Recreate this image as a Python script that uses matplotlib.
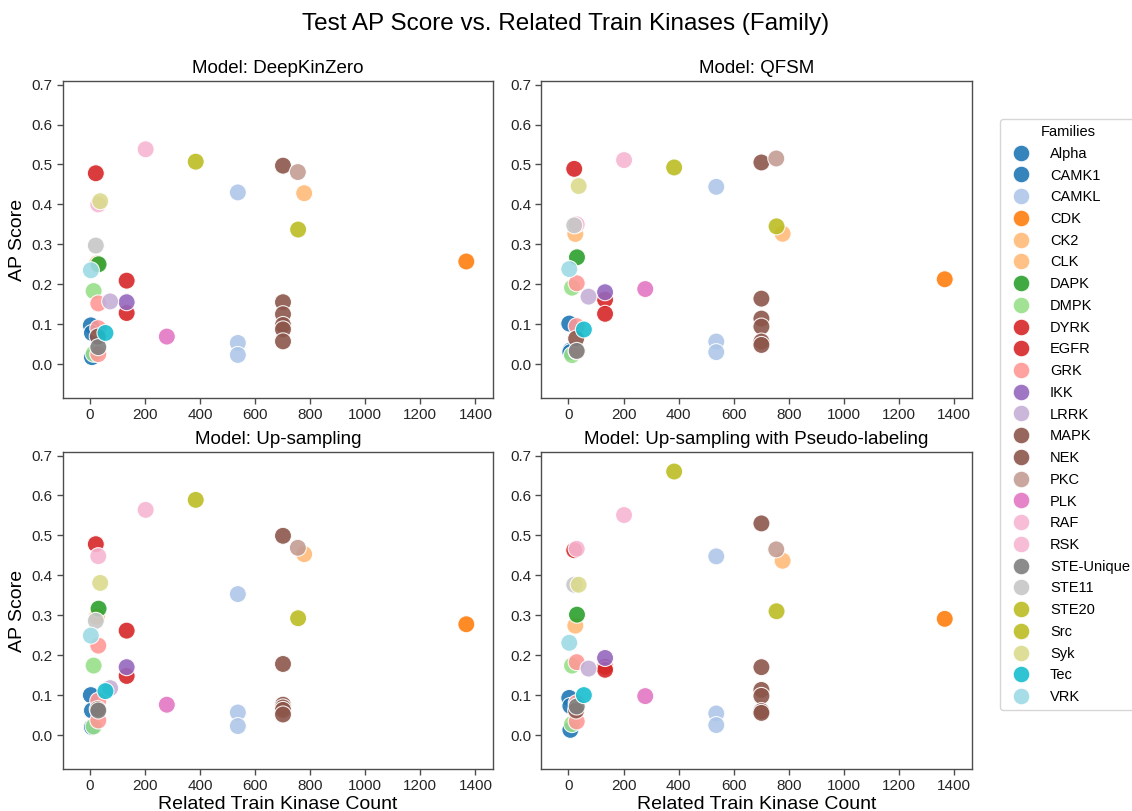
import numpy as np
import matplotlib
matplotlib.use('Agg')
import matplotlib.pyplot as plt
from matplotlib.lines import Line2D

plt.rcParams.update({
    'font.family': ['Liberation Sans', 'DejaVu Sans'],
    'font.size': 11,
    'axes.edgecolor': '#4d4d4d',
    'axes.linewidth': 1.0,
    'xtick.color': '#4d4d4d',
    'ytick.color': '#4d4d4d',
    'xtick.labelcolor': '#262626',
    'ytick.labelcolor': '#262626',
    'xtick.labelsize': 11,
    'ytick.labelsize': 11,
    'figure.facecolor': 'white',
    'axes.facecolor': 'white',
})

# ============================================================
# Data
# ============================================================
families = ['Alpha', 'CAMK1', 'CAMKL', 'CDK', 'CK2', 'CLK', 'DAPK', 'DMPK',
            'DYRK', 'EGFR', 'GRK', 'IKK', 'LRRK', 'MAPK', 'NEK', 'PKC', 'PLK',
            'RAF', 'RSK', 'STE-Unique', 'STE11', 'STE20', 'Src', 'Syk', 'Tec',
            'VRK']
# index into tab20 for every family (as in the reference legend)
family_tab20_idx = [0, 0, 1, 2, 3, 3, 4, 5, 6, 6, 7, 8, 9, 10, 10, 11, 12,
                    13, 13, 14, 15, 16, 16, 17, 18, 19]

kinase_family = ['Alpha', 'CAMK1', 'CAMK1', 'CAMKL', 'CAMKL', 'CAMKL', 'CDK',
                 'CK2', 'CLK', 'DAPK', 'DMPK', 'DMPK', 'DYRK', 'EGFR', 'EGFR',
                 'GRK', 'GRK', 'GRK', 'IKK', 'LRRK',
                 'MAPK', 'MAPK', 'MAPK', 'MAPK', 'MAPK', 'MAPK',
                 'NEK', 'PKC', 'PLK', 'RAF', 'RSK', 'STE-Unique', 'STE11',
                 'STE20', 'Src', 'Syk', 'Tec', 'VRK']
related_count = [3, 7, 7, 537, 537, 537, 1367,
                 25, 778, 31, 13, 13, 21, 133, 133,
                 30, 30, 30, 133, 73,
                 701, 701, 701, 701, 701, 701,
                 28, 755, 279, 30, 202, 30, 21,
                 756, 384, 37, 56, 3]

ap_deepkinzero = [0.097, 0.078, 0.0175, 0.430, 0.053, 0.023, 0.257,
                  0.252, 0.428, 0.250, 0.183, 0.026, 0.478, 0.209, 0.128,
                  0.152, 0.090, 0.025, 0.155, 0.157,
                  0.497, 0.155, 0.125, 0.098, 0.087, 0.057,
                  0.069, 0.481, 0.069, 0.400, 0.538, 0.0425, 0.297,
                  0.337, 0.507, 0.408, 0.078, 0.235]
ap_qfsm = [0.1015, 0.034, 0.030, 0.444, 0.0565, 0.030, 0.2125,
           0.326, 0.3265, 0.2675, 0.1915, 0.0225, 0.489, 0.1615, 0.126,
           0.2025, 0.095, 0.032, 0.180, 0.169,
           0.505, 0.164, 0.114, 0.094, 0.0565, 0.048,
           0.064, 0.515, 0.188, 0.350, 0.511, 0.033, 0.3475,
           0.345, 0.4925, 0.446, 0.0867, 0.238]
ap_upsampling = [0.100, 0.0615, 0.020, 0.353, 0.0565, 0.0225, 0.2775,
                 0.2965, 0.453, 0.3165, 0.174, 0.0215, 0.478, 0.2615, 0.148,
                 0.224, 0.086, 0.0365, 0.170, 0.1175,
                 0.499, 0.178, 0.076, 0.069, 0.063, 0.0515,
                 0.065, 0.469, 0.076, 0.448, 0.564, 0.0615, 0.286,
                 0.2925, 0.589, 0.381, 0.110, 0.249]
ap_pseudo = [0.093, 0.073, 0.013, 0.4475, 0.054, 0.025, 0.291,
             0.274, 0.4365, 0.3015, 0.174, 0.0275, 0.463, 0.171, 0.1635,
             0.1825, 0.080, 0.034, 0.193, 0.1665,
             0.530, 0.170, 0.113, 0.098, 0.060, 0.0555,
             0.0615, 0.465, 0.0975, 0.4665, 0.551, 0.0715, 0.3765,
             0.310, 0.660, 0.3765, 0.100, 0.231]

model_names = ['DeepKinZero', 'QFSM', 'Up-sampling',
               'Up-sampling with Pseudo-labeling']
model_scores = [ap_deepkinzero, ap_qfsm, ap_upsampling, ap_pseudo]

# ============================================================
# Colours
# ============================================================
tab20 = plt.get_cmap('tab20').colors
family_color = {f: tab20[i] for f, i in zip(families, family_tab20_idx)}
point_colors = [family_color[f] for f in kinase_family]

# ============================================================
# Figure
# ============================================================
fig, axes = plt.subplots(2, 2, figsize=(11.32, 8.11), dpi=100)
fig.subplots_adjust(left=0.0557, right=0.8584, top=0.9001, bottom=0.0518,
                    wspace=0.112, hspace=0.170)

for i, (ax, name, scores) in enumerate(zip(axes.flat, model_names,
                                            model_scores)):
    ax.scatter(related_count, scores, c=point_colors, s=150, alpha=0.9,
               edgecolors='white', linewidths=0.8, zorder=3)
    ax.set_title(f'Model: {name}', fontsize=13.5)
    ax.set_xlim(-98, 1465)
    ax.set_ylim(-0.085, 0.709)
    ax.set_xticks(np.arange(0, 1401, 200))
    ax.set_yticks(np.arange(0, 0.71, 0.1))
    ax.yaxis.set_major_formatter(matplotlib.ticker.FormatStrFormatter('%.1f'))
    ax.tick_params(length=4, width=1)
    if i >= 2:
        ax.set_xlabel('Related Train Kinase Count', fontsize=14, labelpad=2)
    if i % 2 == 0:
        ax.set_ylabel('AP Score', fontsize=14)

fig.suptitle('Test AP Score vs. Related Train Kinases (Family)',
             fontsize=17.5, y=0.984)

handles = [Line2D([], [], marker='o', linestyle='', markersize=12,
                  markerfacecolor=family_color[f], markeredgecolor='white',
                  markeredgewidth=0.8, alpha=0.9)
           for f in families]
fig.legend(handles, families, title='Families', loc='upper left',
           bbox_to_anchor=(993 / 1132, 1 - 112 / 811), fontsize=10.5,
           title_fontsize=10.5, labelspacing=0.53, frameon=True,
           edgecolor='#cccccc', borderpad=0.4, handletextpad=1.0)

fig.savefig('out.png', dpi=100)
